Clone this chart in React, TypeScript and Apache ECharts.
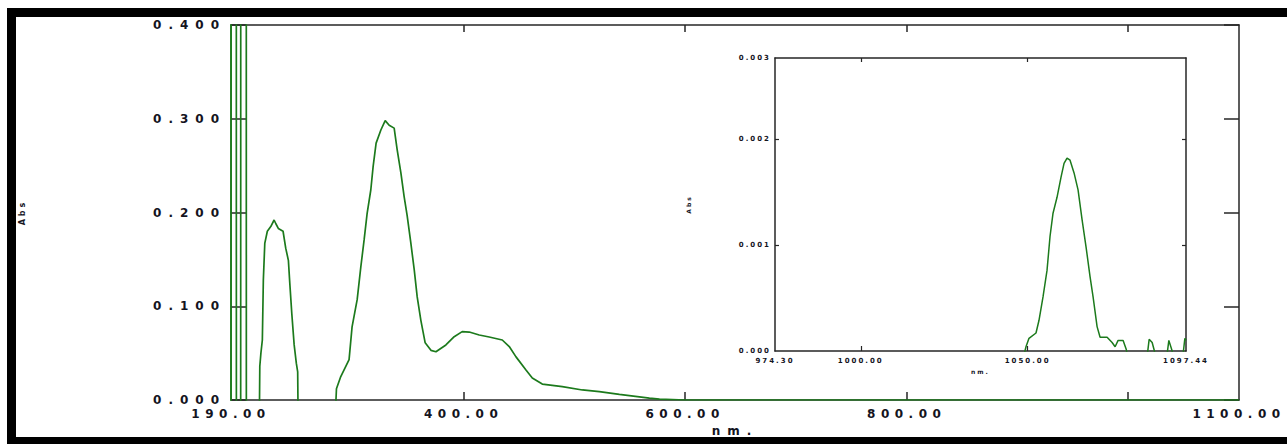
import React, { useEffect, useRef } from "react";
import * as echarts from "echarts";

// ---- main spectrum (wavelength nm / absorbance) ----
const mainNm = [
  190, 190.1, 194.7, 194.9, 198.7, 198.9, 203.7, 203.9,
  215.6, 216.0, 217.0, 218.3, 219.2, 220.5, 222.8, 225.9, 228.9, 230.5, 232.7,
  237.0, 239.4, 241.8, 243.0, 244.9, 247.0, 249.0, 250.2, 250.6,
  284.4, 285.2, 289.1, 296.6, 299.3, 303.9, 307.2, 310.2, 312.9, 316.2, 318.3,
  321.0, 325.3, 329.2, 332.8, 337.3, 340.0, 343.4, 346.3, 349.0, 352.4, 355.4,
  358.1, 361.4, 365.3, 370.5, 375.0, 384.0, 391.5, 398.7, 405.1, 414.1, 423.1,
  434.9, 441.2, 447.3, 456.3, 462.0, 471.0, 489.1, 507.2, 522.5, 540.6, 567.7,
  576.8, 600, 1100,
];
const mainAbs = [
  -0.5, 1.5, 1.5, -0.5, -0.5, 1.5, 1.5, -0.5,
  -0.02, 0.036, 0.05, 0.064, 0.128, 0.167, 0.18, 0.185, 0.192, 0.188, 0.183,
  0.18, 0.162, 0.149, 0.126, 0.092, 0.059, 0.039, 0.03, -0.02,
  -0.01, 0.012, 0.025, 0.043, 0.078, 0.107, 0.142, 0.171, 0.199, 0.224, 0.249,
  0.274, 0.288, 0.298, 0.293, 0.29, 0.267, 0.242, 0.217, 0.197, 0.167, 0.139,
  0.11, 0.085, 0.061, 0.053, 0.0515, 0.0587, 0.0675, 0.0729, 0.0725, 0.0693, 0.0672,
  0.064, 0.057, 0.046, 0.032, 0.0235, 0.017, 0.0142, 0.0107, 0.0089, 0.006, 0.002,
  0.001, 0, 0,
];

// ---- inset spectrum ----
const insetNm = [
  1048.8, 1049.5, 1050.4, 1052.5, 1053.4, 1054.6, 1055.8, 1056.7, 1057.6, 1058.8,
  1060.0, 1060.9, 1061.8, 1062.7, 1063.9, 1065.1, 1066.3, 1067.5, 1068.7, 1069.6,
  1070.8, 1071.7, 1073.8, 1075.3, 1076.2, 1077.1, 1078.6, 1079.5, 1080.0, 1085.8,
  1086.4, 1087.3, 1087.9, 1088.3, 1091.7, 1092.3, 1093.2, 1093.6, 1096.5, 1097.1,
  1097.44,
];
const insetAbs = [
  -0.00005, 0.00004, 0.00012, 0.00017, 0.00029, 0.00051, 0.00076, 0.00108, 0.0013, 0.00145,
  0.00164, 0.00177, 0.00182, 0.0018, 0.00168, 0.00152, 0.00124, 0.00098, 0.0007, 0.00051,
  0.00023, 0.00013, 0.00013, 0.00008, 0.00004, 0.0001, 0.0001, 0.00002, -0.00005, -0.00005,
  0.00011, 0.00008, 0.00001, -0.00005, -0.00005, 0.0001, 0.00001, -0.00005, -0.00005, 0.00012,
  0.0001,
];

// ---- axes ----
const mainXRange = [190, 1100];
const mainXLabels = [190, 400, 600, 800, 1100];
const mainXTicks = [400, 600, 800, 1000];
const mainYRange = [0, 0.4];
const mainYStep = 0.1;
const insetXRange = [974.3, 1097.44];
const insetXLabels = [974.3, 1000, 1050, 1097.44];
const insetXTicks = [1000, 1050];
const insetYRange = [0, 0.002764];
const insetYLabels = [0, 0.001, 0.002, 0.002764];
const insetYTicks = [0.001, 0.002];

const GREEN = "#1c7a1c";
const AXIS = "#262626";
const TXT = "#14141e";

const css = `
.spec-chart text { letter-spacing: 7px; }
.spec-chart text[style*="AxisX"] { letter-spacing: 5.5px; }
.spec-chart text[style*="Verdana"] { letter-spacing: 2px; }
.spec-chart text[style*="Tahoma"] { letter-spacing: 3px; }
`;

export default function App() {
  const ref = useRef<HTMLDivElement>(null);
  useEffect(() => {
    if (!ref.current) return;
    const chart = echarts.init(ref.current, undefined, { renderer: "svg" });
    const mainLbl = { fontFamily: "DejaVu Sans", fontWeight: "bold", fontSize: 12, color: TXT };
    const xLbl = { fontFamily: "AxisX, DejaVu Sans", fontWeight: "bold", fontSize: 12, color: TXT };
    const insetLbl = { fontFamily: "Verdana, DejaVu Sans", fontWeight: "bold", fontSize: 7, color: TXT };
    const line = (w: number) => ({ show: true, onZero: false, lineStyle: { color: AXIS, width: w } });
    const option: any = {
      animation: false,
      backgroundColor: "#fff",
      grid: [
        { left: 231, right: 48, top: 25, bottom: 44, outerBoundsMode: "none", containLabel: false },
        { left: 775, right: 101, top: 58, bottom: 93, outerBoundsMode: "none", containLabel: false },
      ],
      xAxis: [
        {
          type: "value", gridIndex: 0, position: "bottom", min: mainXRange[0], max: mainXRange[1],
          axisLine: line(1.5), splitLine: { show: false },
          axisTick: { show: true, inside: true, length: 8, customValues: mainXTicks, lineStyle: { color: AXIS, width: 1.5 } },
          axisLabel: { ...xLbl, margin: 8, customValues: mainXLabels, formatter: (v: number) => v.toFixed(2) },
          name: "nm.", nameLocation: "middle", nameGap: 24, nameTextStyle: { ...mainLbl },
        },
        {
          type: "value", gridIndex: 0, position: "top", min: mainXRange[0], max: mainXRange[1],
          axisLine: line(1.5), splitLine: { show: false },
          axisTick: { show: true, inside: true, length: 7, customValues: mainXTicks, lineStyle: { color: AXIS, width: 1.5 } },
          axisLabel: { show: false },
        },
        {
          type: "value", gridIndex: 1, position: "bottom", min: insetXRange[0], max: insetXRange[1],
          axisLine: line(1.5), splitLine: { show: false },
          axisTick: { show: true, inside: true, length: 5, customValues: insetXTicks, lineStyle: { color: AXIS, width: 1.2 } },
          axisLabel: { ...insetLbl, margin: 6, customValues: insetXLabels, formatter: (v: number) => v.toFixed(2) },
          name: "nm.", nameLocation: "middle", nameGap: 17, nameTextStyle: { ...insetLbl, fontSize: 6 },
        },
        {
          type: "value", gridIndex: 1, position: "top", min: insetXRange[0], max: insetXRange[1],
          axisLine: line(1.5), splitLine: { show: false },
          axisTick: { show: true, inside: true, length: 4, customValues: insetXTicks, lineStyle: { color: AXIS, width: 1.2 } },
          axisLabel: { show: false },
        },
      ],
      yAxis: [
        {
          type: "value", gridIndex: 0, position: "left", min: mainYRange[0], max: mainYRange[1], interval: mainYStep,
          z: 3,
          axisLine: { show: true, onZero: false, lineStyle: { color: GREEN, width: 1.5 } }, splitLine: { show: false },
          axisTick: { show: true, inside: true, length: 15, lineStyle: { color: AXIS, width: 1.5 } },
          axisLabel: { ...mainLbl, margin: 5, formatter: (v: number) => v.toFixed(3) },
          name: "Abs", nameLocation: "middle", nameGap: 205,
          nameTextStyle: { fontFamily: "Tahoma, DejaVu Sans", fontWeight: "bold", fontSize: 8, color: TXT },
        },
        {
          type: "value", gridIndex: 0, position: "right", min: mainYRange[0], max: mainYRange[1], interval: mainYStep,
          axisLine: line(1.5), splitLine: { show: false },
          axisTick: { show: true, inside: true, length: 15, lineStyle: { color: AXIS, width: 1.5 } },
          axisLabel: { show: false },
        },
        {
          type: "value", gridIndex: 1, position: "left", min: insetYRange[0], max: insetYRange[1],
          axisLine: line(1.5), splitLine: { show: false },
          axisTick: { show: true, inside: true, length: 4, customValues: insetYTicks, lineStyle: { color: AXIS, width: 1.2 } },
          axisLabel: { ...insetLbl, margin: 4, customValues: insetYLabels, formatter: (v: number) => v.toFixed(3) },
          name: "Abs", nameLocation: "middle", nameGap: 84, nameTextStyle: { ...insetLbl, fontSize: 6 },
        },
        {
          type: "value", gridIndex: 1, position: "right", min: insetYRange[0], max: insetYRange[1],
          axisLine: line(1.5), splitLine: { show: false },
          axisTick: { show: true, inside: true, length: 4, customValues: insetYTicks, lineStyle: { color: AXIS, width: 1.2 } },
          axisLabel: { show: false },
        },
      ],
      series: [
        {
          type: "line", xAxisIndex: 0, yAxisIndex: 0, showSymbol: false, clip: true,
          lineStyle: { color: GREEN, width: 1.7 },
          data: mainNm.map((n, i) => [n, mainAbs[i]]),
        },
        {
          type: "line", xAxisIndex: 2, yAxisIndex: 2, showSymbol: false, clip: true,
          lineStyle: { color: GREEN, width: 1.5 },
          data: insetNm.map((n, i) => [n, insetAbs[i]]),
        },
      ],
      graphic: [
        {
          type: "rect", silent: true, z: 100,
          shape: { x: 11.5, y: 12.5, width: 1300, height: 429 },
          style: { fill: "none", stroke: "#000", lineWidth: 9 },
        },
      ],
    };
    chart.setOption(option);
    return () => chart.dispose();
  }, []);
  return (
    <>
      <style>{css}</style>
      <div
        ref={ref}
        className="spec-chart"
        style={{ position: "fixed", left: 0, top: 0, width: 1287, height: 444 }}
      />
    </>
  );
}
